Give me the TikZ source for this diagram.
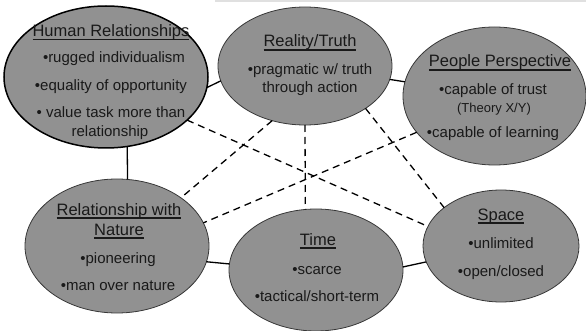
\documentclass[tikz,border=0pt]{standalone}
\usepackage{fontspec}
\setmainfont{Liberation Sans}
\usetikzlibrary{shapes.geometric}
\definecolor{ovalfill}{RGB}{145,145,145}
\definecolor{ovalline}{RGB}{55,55,55}
\definecolor{textdark}{RGB}{25,25,25}
% heading text with a heavy underline set at a fixed depth below the baseline
\newcommand\ttl[1]{\setbox0\hbox{#1}\leavevmode\rlap{\vrule width\wd0 height-2.3pt depth3.7pt}\box0}
\begin{document}
\begin{tikzpicture}[x=1pt,y=-1pt,
  oval/.style={ellipse, fill=ovalfill, draw=ovalline, line width=0.8pt, inner sep=0pt, outer sep=0pt},
  heading/.style={anchor=base, inner sep=0pt, text=textdark, font=\fontsize{16.5}{18}\selectfont},
  item/.style={anchor=base, inner sep=0pt, text=textdark, font=\fontsize{15}{17}\selectfont},
  note/.style={anchor=base, inner sep=0pt, text=textdark, font=\fontsize{13}{15}\selectfont},
  link/.style={line width=1.3pt, black},
  crosslink/.style={line width=1.3pt, black, dash pattern=on 7pt off 5pt}]
\useasboundingbox (0,0) rectangle (586,331);
\fill[black!12] (215,0) rectangle (586,2.5);

% the six value orientations
\node[oval, draw=black, line width=1.5pt, minimum width=204pt, minimum height=142pt] (human) at (106,77) {};
\node[oval, minimum width=174pt, minimum height=118pt] (reality) at (305,66) {};
\node[oval, minimum width=183pt, minimum height=138pt] (people) at (494.5,96) {};
\node[oval, minimum width=184pt, minimum height=134pt] (nature) at (117,246) {};
\node[oval, minimum width=174pt, minimum height=122pt] (time) at (316,270) {};
\node[oval, minimum width=156pt, minimum height=112pt] (space) at (501,246) {};

% solid links around the ring
\draw[link] (human.-6.2) -- (reality.190.9);
\draw[link] (reality.-9.4) -- (people.171.9);
\draw[link] (human.-73.2) -- (nature.81.5);
\draw[link] (nature.-10) -- (time.176.7);
\draw[link] (time.2) -- (space.192.2);

% dashed cross links
\draw[crosslink] (human.-28) -- (space.165.4);
\draw[crosslink] (reality.239.8) -- (nature.37.3);
\draw[crosslink] (reality.-90) -- (time.100.3);
\draw[crosslink] (reality.-35) -- (space.146.1);
\draw[crosslink] (people.205.7) -- (nature.15.3);

% Human Relationships
\node[heading] (humanT) at (111,36.5) {\ttl{Human Relationships}};
\node[item] (human1) at (114,63) {•rugged individualism};
\node[item] (human2) at (111,91) {•equality of opportunity};
\node[item] (human3) at (111,118) {• value task more than};
\node[item] (human4) at (110,137) {relationship};

% Reality/Truth
\node[heading] (realityT) at (310,47) {\ttl{Reality/Truth}};
\node[item] (reality1) at (310,75) {•pragmatic w/ truth};
\node[item] (reality2) at (310,93) {through action};

% People Perspective
\node[heading] (peopleT) at (500,67) {\ttl{People Perspective}};
\node[item] (people1) at (493,95) {•capable of trust};
\node[note] (people2) at (494,112.5) {(Theory X/Y)};
\node[item] (people3) at (493,138) {•capable of learning};

% Relationship with Nature
\node[heading] (natureT1) at (119,215) {\ttl{Relationship with}};
\node[heading] (natureT2) at (119,235) {\ttl{Nature}};
\node[item] (nature1) at (118,263) {•pioneering};
\node[item] (nature2) at (118,290) {•man over nature};

% Time
\node[heading] (timeT) at (318,245) {\ttl{Time}};
\node[item] (time1) at (317,274) {•scarce};
\node[item] (time2) at (317,301) {•tactical/short-term};

% Space
\node[heading] (spaceT) at (501,220) {\ttl{Space}};
\node[item] (space1) at (501,248) {•unlimited};
\node[item] (space2) at (501,276) {•open/closed};
\end{tikzpicture}
\end{document}
